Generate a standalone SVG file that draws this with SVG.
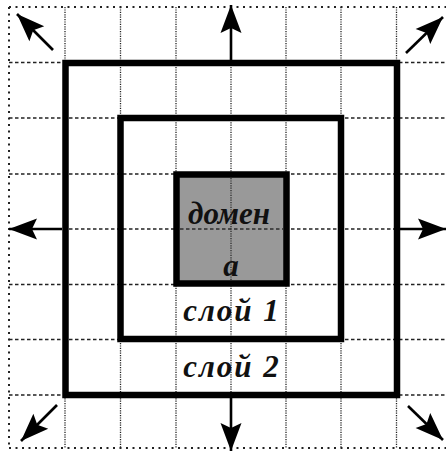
<svg xmlns="http://www.w3.org/2000/svg" width="446" height="452" viewBox="0 0 446 452">
<style>
.bg{fill:#fff}
.gv{stroke:#222;stroke-width:1.3;stroke-dasharray:1.2 1.2;fill:none}
.gh{stroke:#222;stroke-width:1.6;stroke-dasharray:3.5 2.5;fill:none}
.ge{stroke:#222;stroke-width:2;stroke-dasharray:2 4.5;fill:none}
.sq{fill:none;stroke:#000;stroke-width:6.5}
.dom{fill:#999;stroke:#000;stroke-width:6.5}
.ar{stroke:#000;stroke-width:2.6;fill:none;marker-end:url(#ah)}
.lb{font-family:"Liberation Serif","Times New Roman",serif;font-style:italic;font-weight:bold;font-size:31px;fill:#111;text-anchor:middle}
.sp{letter-spacing:2px}
</style>
<defs>
<marker id="ah" markerUnits="userSpaceOnUse" markerWidth="32" markerHeight="26" viewBox="-30 -12 32 24" refX="0" refY="0" orient="auto">
<path d="M0,0 L-28,-10.5 L-23,0 L-28,10.5 Z" fill="#000"/>
</marker>
</defs>
<rect class="bg" x="0" y="0" width="446" height="452"/>
<g id="grid">
<line class="ge" x1="9" y1="7" x2="9" y2="448"/>
<line class="gv" x1="65" y1="7" x2="65" y2="448"/>
<line class="gv" x1="120.5" y1="7" x2="120.5" y2="448"/>
<line class="gv" x1="176" y1="7" x2="176" y2="448"/>
<line class="gv" x1="231" y1="7" x2="231" y2="448"/>
<line class="gv" x1="286" y1="7" x2="286" y2="448"/>
<line class="gv" x1="341" y1="7" x2="341" y2="448"/>
<line class="gv" x1="396.5" y1="7" x2="396.5" y2="448"/>
<line class="ge" x1="9" y1="7" x2="446" y2="7"/>
<line class="gh" x1="9" y1="62.5" x2="446" y2="62.5"/>
<line class="gh" x1="9" y1="118" x2="446" y2="118"/>
<line class="gh" x1="9" y1="174" x2="446" y2="174"/>
<line class="gh" x1="9" y1="229" x2="446" y2="229"/>
<line class="gh" x1="9" y1="284.5" x2="446" y2="284.5"/>
<line class="gh" x1="9" y1="339.5" x2="446" y2="339.5"/>
<line class="gh" x1="9" y1="395" x2="446" y2="395"/>
<line class="ge" x1="9" y1="448" x2="446" y2="448"/>
</g>
<g id="layer2">
<rect class="sq" x="65.5" y="63" width="331.5" height="332"/>
<text class="lb sp" x="232" y="377">слой 2</text>
</g>
<g id="layer1">
<rect class="sq" x="120.5" y="118" width="220.5" height="221"/>
<text class="lb sp" x="232" y="321">слой 1</text>
</g>
<g id="domain">
<rect class="dom" x="176.5" y="174.5" width="110" height="109"/>
<g fill="none" opacity="0.9">
<line class="gv" x1="231" y1="178" x2="231" y2="280"/>
<line class="gh" x1="180" y1="229" x2="283" y2="229"/>
</g>
<text class="lb" x="229" y="224">домен</text>
<text class="lb" x="231" y="276">а</text>
</g>
<g id="connectors">
<line class="ar" x1="231" y1="62" x2="231" y2="5"/>
<line class="ar" x1="231" y1="396" x2="231" y2="451"/>
<line class="ar" x1="62" y1="229" x2="9" y2="229"/>
<line class="ar" x1="398" y1="229" x2="446" y2="229"/>
<line class="ar" x1="53" y1="50" x2="17" y2="14"/>
<line class="ar" x1="406" y1="53" x2="443" y2="17"/>
<line class="ar" x1="57" y1="405" x2="21" y2="441"/>
<line class="ar" x1="408" y1="406" x2="443" y2="440"/>
</g>
</svg>
